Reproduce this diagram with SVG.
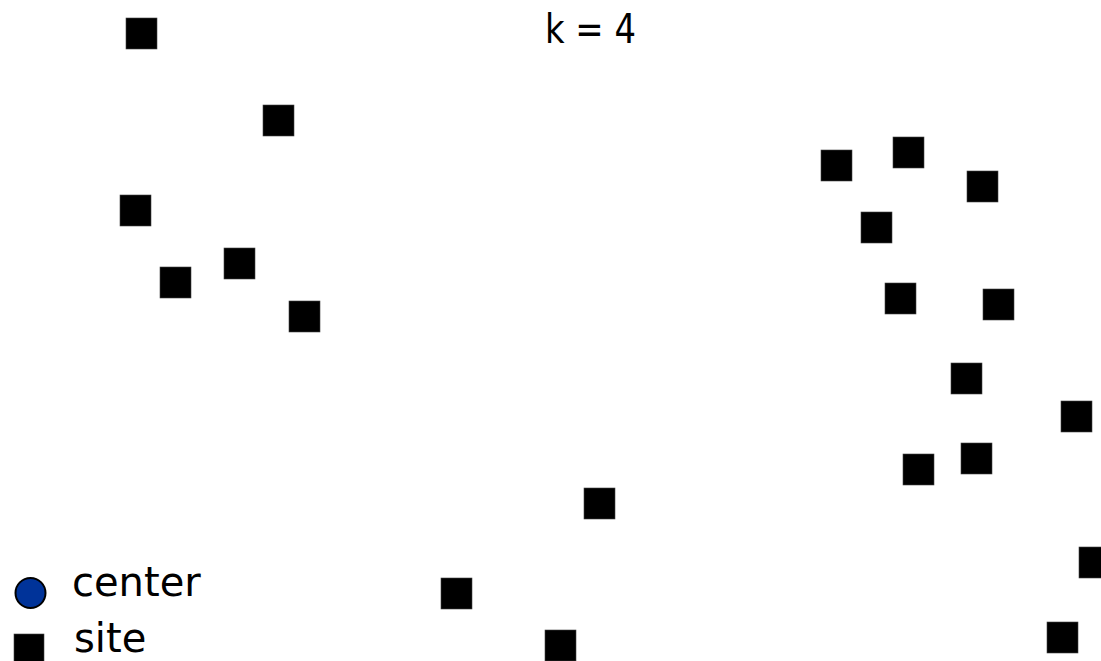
<svg xmlns="http://www.w3.org/2000/svg" width="1101" height="661" viewBox="0 0 1101 661">
<style>
.site{fill:#000;stroke:#444;stroke-width:0.6}
.lbl{font-family:"DejaVu Sans","Liberation Sans",sans-serif;font-size:40px;fill:#000}
</style>
<rect width="1101" height="661" fill="#fff"/>
<text class="lbl" x="545" y="43" font-size="42" textLength="91" lengthAdjust="spacingAndGlyphs">k = 4</text>
<g id="sites">
<rect id="s1" class="site" x="126" y="18" width="31" height="31"/>
<rect id="s2" class="site" x="263" y="105" width="31" height="31"/>
<rect id="s3" class="site" x="120" y="195" width="31" height="31"/>
<rect id="s4" class="site" x="160" y="267" width="31" height="31"/>
<rect id="s5" class="site" x="224" y="248" width="31" height="31"/>
<rect id="s6" class="site" x="289" y="301" width="31" height="31"/>
<rect id="s7" class="site" x="821" y="150" width="31" height="31"/>
<rect id="s8" class="site" x="893" y="137" width="31" height="31"/>
<rect id="s9" class="site" x="967" y="171" width="31" height="31"/>
<rect id="s10" class="site" x="861" y="212" width="31" height="31"/>
<rect id="s11" class="site" x="885" y="283" width="31" height="31"/>
<rect id="s12" class="site" x="983" y="289" width="31" height="31"/>
<rect id="s13" class="site" x="951" y="363" width="31" height="31"/>
<rect id="s14" class="site" x="1061" y="401" width="31" height="31"/>
<rect id="s15" class="site" x="961" y="443" width="31" height="31"/>
<rect id="s16" class="site" x="903" y="454" width="31" height="31"/>
<rect id="s17" class="site" x="1079" y="547" width="31" height="31"/>
<rect id="s18" class="site" x="1047" y="622" width="31" height="31"/>
<rect id="s19" class="site" x="584" y="488" width="31" height="31"/>
<rect id="s20" class="site" x="441" y="578" width="31" height="31"/>
<rect id="s21" class="site" x="545" y="630" width="31" height="31"/>
</g>
<g id="legend">
<circle cx="30.5" cy="593" r="15" fill="#003399" stroke="#000" stroke-width="2"/>
<text class="lbl" x="72" y="596">center</text>
<rect class="site" x="14" y="634" width="30" height="30"/>
<text class="lbl" x="74" y="652">site</text>
</g>
</svg>
